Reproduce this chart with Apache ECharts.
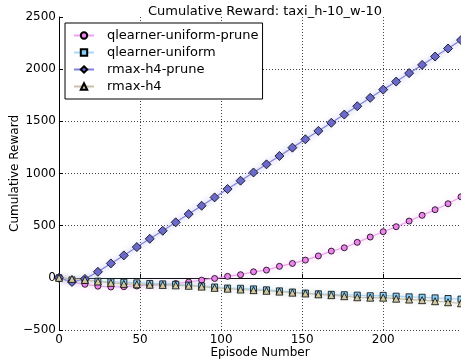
<!DOCTYPE html>
<html>
<head>
<meta charset="utf-8">
<script src="https://cdn.jsdelivr.net/npm/echarts@6/dist/echarts.min.js"></script>
<style>html,body{margin:0;padding:0;background:#fff;}#c{width:461px;height:364px;}</style>
</head>
<body>
<div id="c"></div>
<script>
var episodes = [0,8,16,24,32,40,48,56,64,72,80,88,96,104,112,120,128,136,144,152,160,168,176,184,192,200,208,216,224,232,240,248];
var qlearnerUniformPrune = [0,-38,-62,-80,-88,-85,-78,-70,-62,-55,-40,-22,-6,14,30,58,74,110,138,170,210,256,288,340,391,442,490,544,599,653,710,777];
var qlearnerUniform = [0,-20,-25,-32,-38,-42,-48,-54,-58,-62,-70,-78,-88,-98,-100,-106,-115,-125,-136,-146,-153,-158,-162,-166,-172,-168,-176,-182,-186,-192,-198,-204];
var rmaxH4Prune = [0,-40,-10,58,138,215,295,374,451,532,611,691,771,851,931,1010,1088,1168,1248,1328,1408,1486,1565,1645,1725,1804,1881,1962,2041,2121,2198,2279];
var rmaxH4 = [0,-10,-20,-35,-48,-58,-62,-66,-68,-72,-76,-84,-96,-104,-112,-118,-124,-132,-142,-150,-158,-166,-176,-186,-190,-190,-200,-208,-214,-224,-234,-244];
var xTicks = [0,50,100,150,200];
var yTicks = [-500,0,500,1000,1500,2000,2500];

var FONT = 'DejaVu Sans';
function pairs(ys){ return episodes.map(function(x,i){ return [x, ys[i]]; }); }
function mk(name, data, symbol, size, fill, line){
  return {
    name: name, type: 'line', data: pairs(data),
    symbol: symbol, symbolSize: size, showAllSymbol: true,
    clip: false,
    itemStyle: {color: fill, borderColor: '#000', borderWidth: 0.8},
    lineStyle: {color: line, width: 1.2, shadowColor: line, shadowBlur: 6},
    emphasis: {disabled: true},
    animation: false
  };
}
var chart = echarts.init(document.getElementById('c'), null, {renderer: 'canvas'});
chart.setOption({
  backgroundColor: '#fff',
  animation: false,
  textStyle: {fontFamily: FONT},
  title: {
    text: 'Cumulative Reward: taxi_h-10_w-10',
    left: 260, top: 0, textAlign: 'center',
    textStyle: {fontFamily: FONT, fontSize: 13, fontWeight: 'normal', color: '#000'}
  },
  grid: {left: 59, top: 17, right: 0, bottom: 34, containLabel: false, outerBoundsMode: 'none'},
  legend: {
    left: 65, top: 23, orient: 'vertical',
    backgroundColor: '#fff', borderColor: '#000', borderWidth: 1, borderRadius: 0,
    padding: [6, 4, 6, 8],
    itemGap: 4, itemWidth: 20, itemHeight: 8,
    textStyle: {fontFamily: FONT, fontSize: 13, color: '#000', padding: [0,0,0,8]},
    data: ['qlearner-uniform-prune','qlearner-uniform','rmax-h4-prune','rmax-h4']
  },
  xAxis: {
    type: 'value', min: 0, max: 248, interval: 50,
    name: 'Episode Number', nameLocation: 'middle', nameGap: 17, nameMoveOverlap: false,
    nameTextStyle: {fontFamily: FONT, fontSize: 12, color: '#000'},
    axisLine: {show: true, lineStyle: {color: '#000', width: 1}},
    axisTick: {show: true, inside: true, length: 4, lineStyle: {color: '#000'}},
    axisLabel: {fontFamily: FONT, fontSize: 12, color: '#000', margin: 4,
      formatter: function(v){ return xTicks.indexOf(v) >= 0 ? String(v) : ''; }},
    splitLine: {show: true, showMaxLine: false, lineStyle: {color: '#444', type: [1, 2], width: 1}}
  },
  yAxis: {
    type: 'value', min: -500, max: 2500, interval: 500,
    name: 'Cumulative Reward', nameLocation: 'middle', nameGap: 38, nameMoveOverlap: false,
    nameTextStyle: {fontFamily: FONT, fontSize: 12, color: '#000'},
    axisLine: {show: true, lineStyle: {color: '#000', width: 1}},
    axisTick: {show: true, inside: true, length: 4, lineStyle: {color: '#000'}},
    axisLabel: {fontFamily: FONT, fontSize: 12, color: '#000', margin: 3,
      formatter: function(v){ return yTicks.indexOf(v) >= 0 ? String(v).replace('-', '\u2212') : ''; }},
    splitLine: {show: true, showMaxLine: false, lineStyle: {color: '#444', type: [1, 2], width: 1}}
  },
  series: [
    mk('qlearner-uniform-prune', qlearnerUniformPrune, 'circle', 6, '#ee82ee', '#f0a0f0'),
    mk('qlearner-uniform', qlearnerUniform, 'rect', 6, '#87cefa', '#aad8f8'),
    mk('rmax-h4-prune', rmaxH4Prune, 'diamond', 9, '#6a6acd', '#8080e0'),
    mk('rmax-h4', rmaxH4, 'triangle', 7, '#d2c8a0', '#c8c0a8')
  ]
});
</script>
</body>
</html>
